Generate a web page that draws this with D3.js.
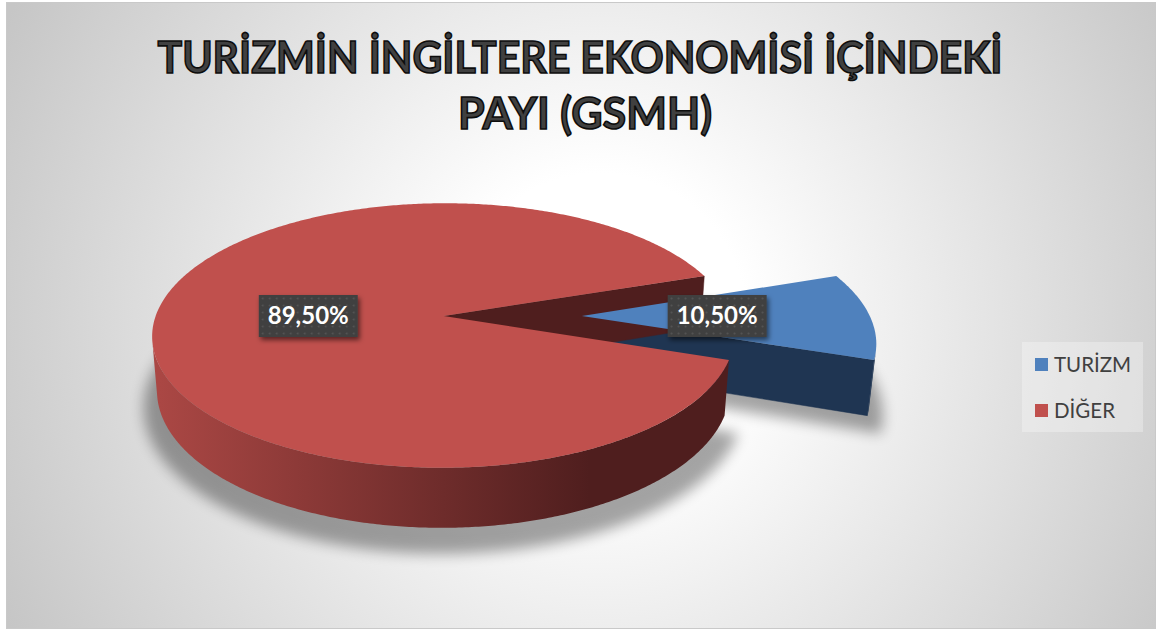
<!DOCTYPE html>
<html>
<head>
<meta charset="utf-8">
<script src="https://cdn.jsdelivr.net/npm/d3@7"></script>
<style>
  html, body { margin: 0; padding: 0; background: #fff; }
  svg { display: block; }
</style>
</head>
<body>
<div id="chart"></div>
<script>
// data
const categories = ["TURİZM", "DİĞER"];
const shares = [10.5, 89.5];
const titleLines = ["TURİZMİN İNGİLTERE EKONOMİSİ İÇİNDEKİ", "PAYI (GSMH)"];

const width = 1158, height = 631;

const topColor = d3.scaleOrdinal().domain(categories).range(["#4F81BD", "#C0504D"]);
const sideColor = d3.scaleOrdinal().domain(categories).range(["#1F3552", "#4F1E1E"]);
const explode = d3.scaleOrdinal().domain(categories).range([0.43, 0.05]);

const trLocale = d3.formatLocale({ decimal: ",", thousands: ".", grouping: [3], currency: ["", "₺"] });
const pct = trLocale.format(".2%");

// simple perspective camera looking down on the pie
const cam = { x0: 458, y0: 316, f: 1745, dist: 6.06, tilt: 26.7 * Math.PI / 180, thick: 0.212 };
const cosT = Math.cos(cam.tilt), sinT = Math.sin(cam.tilt);
const camX = 0, camZ = -cam.dist * cosT;

function project(X, Y, Z) {
    const k = cam.f / (cam.dist + Z * cosT - Y * sinT);
    return [cam.x0 + k * X, cam.y0 - k * (Z * sinT + Y * cosT)];
}

const svg = d3.select("#chart")
    .append("svg")
    .attr("width", width)
    .attr("height", height);

const defs = svg.append("defs");

const bg = defs.append("radialGradient")
    .attr("id", "bg")
    .attr("gradientUnits", "userSpaceOnUse")
    .attr("cx", 600).attr("cy", 320).attr("r", 665);
bg.append("stop").attr("offset", "0%").attr("stop-color", "#ffffff");
bg.append("stop").attr("offset", "22%").attr("stop-color", "#ffffff");
bg.append("stop").attr("offset", "100%").attr("stop-color", "#c6c6c6");

const wallGrad = defs.append("linearGradient")
    .attr("id", "wall-grad")
    .attr("gradientUnits", "userSpaceOnUse")
    .attr("x1", 160).attr("x2", 590).attr("y1", 0).attr("y2", 0);
wallGrad.append("stop").attr("offset", "0%").attr("stop-color", "#AA4744");
wallGrad.append("stop").attr("offset", "100%").attr("stop-color", "#4F1E1E");

defs.append("filter")
    .attr("id", "soft")
    .attr("x", "-20%").attr("y", "-20%").attr("width", "140%").attr("height", "140%")
    .append("feGaussianBlur").attr("stdDeviation", 7);

const labShadow = defs.append("filter")
    .attr("id", "lab-shadow")
    .attr("x", "-20%").attr("y", "-30%").attr("width", "150%").attr("height", "170%");
labShadow.append("feDropShadow")
    .attr("dx", 2).attr("dy", 3).attr("stdDeviation", 2.5)
    .attr("flood-color", "#000").attr("flood-opacity", 0.55);

const dots = defs.append("pattern")
    .attr("id", "dots")
    .attr("patternUnits", "userSpaceOnUse")
    .attr("width", 7).attr("height", 7);
dots.append("rect").attr("width", 7).attr("height", 7).attr("fill", "#404040");
dots.append("circle").attr("cx", 3.5).attr("cy", 3.5).attr("r", 1).attr("fill", "#555555");

// background
svg.append("rect")
    .attr("x", 6.5).attr("y", 2.5)
    .attr("width", 1149).attr("height", 626)
    .attr("fill", "url(#bg)")
    .attr("stroke", "#c9c9c9")
    .attr("stroke-width", 1);

// title
svg.append("g")
    .selectAll("text")
    .data(titleLines)
    .join("text")
    .attr("x", (d, i) => i === 0 ? 580 : 585)
    .attr("y", (d, i) => 73 + i * 56)
    .attr("text-anchor", "middle")
    .attr("font-family", "Lato, 'Open Sans', sans-serif")
    .attr("font-weight", "bold")
    .attr("font-size", 44)
    .attr("fill", "#404040")
    .attr("stroke", "#0d0d0d")
    .attr("stroke-width", 1.6)
    .attr("textLength", (d, i) => i === 0 ? 845 : 254)
    .attr("lengthAdjust", "spacingAndGlyphs")
    .text(d => d);

// pie geometry
const rows = categories.map((c, i) => ({ name: c, value: shares[i] }));
const rotation = Math.PI / 2 - Math.PI * shares[0] / 100;
const pie = d3.pie()
    .sort(null)
    .value(d => d.value)
    .startAngle(rotation)
    .endAngle(rotation + 2 * Math.PI);
const arcs = pie(rows);

arcs.forEach(d => {
    const mid = (d.startAngle + d.endAngle) / 2;
    const e = explode(d.data.name);
    d.ox = e * Math.sin(mid);
    d.oz = e * Math.cos(mid);
});

function pt(d, a, r, Y) {
    return project(d.ox + r * Math.sin(a), Y, d.oz + r * Math.cos(a));
}

function arcPoints(d, r, Y, from, to) {
    const n = Math.max(8, Math.ceil(Math.abs(to - from) / 0.01));
    return d3.range(n + 1).map(i => pt(d, from + (to - from) * i / n, r, Y));
}

const line = d3.line();

// shadow on the floor
svg.append("g")
    .attr("filter", "url(#soft)")
    .attr("opacity", 0.35)
    .selectAll("path")
    .data(arcs)
    .join("path")
    .attr("fill", "#000")
    .attr("d", d => line([pt(d, 0, 0, -cam.thick - 0.06)]
        .concat(arcPoints(d, 1.05, -cam.thick - 0.06, d.startAngle, d.endAngle))) + "Z");

// radial cut faces (only those turned to the camera)
const faces = [];
arcs.forEach(d => {
    [[d.startAngle, -1], [d.endAngle, 1]].forEach(([a, sgn]) => {
        const nx = sgn * Math.cos(a), nz = -sgn * Math.sin(a);
        const px = d.ox + 0.5 * Math.sin(a), pz = d.oz + 0.5 * Math.cos(a);
        if (nx * (camX - px) + nz * (camZ - pz) > 0) {
            faces.push({
                d: d,
                pts: [pt(d, a, 0, 0), pt(d, a, 1, 0), pt(d, a, 1, -cam.thick), pt(d, a, 0, -cam.thick)]
            });
        }
    });
});

svg.append("g")
    .selectAll("path")
    .data(faces)
    .join("path")
    .attr("d", f => line(f.pts) + "Z")
    .attr("fill", f => sideColor(f.d.data.name))
    .attr("stroke", f => sideColor(f.d.data.name))
    .attr("stroke-width", 0.5);

// outer walls, split into runs that face the camera
const walls = [];
arcs.forEach(d => {
    const n = Math.ceil((d.endAngle - d.startAngle) / 0.01);
    let run = [];
    for (let i = 0; i <= n; i++) {
        const a = d.startAngle + (d.endAngle - d.startAngle) * i / n;
        const px = d.ox + Math.sin(a), pz = d.oz + Math.cos(a);
        const vis = Math.sin(a) * (camX - px) + Math.cos(a) * (camZ - pz) > 0;
        if (vis) run.push(a);
        if ((!vis || i === n) && run.length > 1) {
            walls.push({ d: d, angles: run });
            run = [];
        } else if (!vis) {
            run = [];
        }
    }
});

svg.append("g")
    .selectAll("path")
    .data(walls)
    .join("path")
    .attr("d", w => {
        const top = w.angles.map(a => pt(w.d, a, 1, 0));
        const bottom = w.angles.map(a => pt(w.d, a, 1, -cam.thick)).reverse();
        return line(top.concat(bottom)) + "Z";
    })
    .attr("fill", w => w.d.index === 1 ? "url(#wall-grad)" : sideColor(w.d.data.name));

// top faces
svg.append("g")
    .selectAll("path")
    .data(arcs)
    .join("path")
    .attr("d", d => line([pt(d, 0, 0, 0)].concat(arcPoints(d, 1, 0, d.startAngle, d.endAngle))) + "Z")
    .attr("fill", d => topColor(d.data.name));

// data labels
const labels = svg.append("g")
    .selectAll("g")
    .data(arcs)
    .join("g")
    .attr("transform", d => {
        const mid = (d.startAngle + d.endAngle) / 2;
        const [x, y] = pt(d, mid, 0.47, 0);
        return `translate(${x},${y})`;
    });

labels.append("rect")
    .attr("filter", "url(#lab-shadow)")
    .attr("fill", "url(#dots)");

labels.append("text")
    .attr("text-anchor", "middle")
    .attr("dy", "0.35em")
    .attr("font-family", "Lato, 'Open Sans', sans-serif")
    .attr("font-weight", "bold")
    .attr("font-size", 24)
    .attr("fill", "#ffffff")
    .text(d => pct(d.data.value / 100));

labels.each(function () {
    const g = d3.select(this);
    const w = g.select("text").node().getComputedTextLength() + 18;
    g.select("rect")
        .attr("x", -w / 2).attr("y", -21)
        .attr("width", w).attr("height", 42);
});

// legend
const legend = svg.append("g").attr("transform", "translate(1022,342)");
legend.append("rect")
    .attr("width", 121).attr("height", 90)
    .attr("fill", "#ffffff")
    .attr("fill-opacity", 0.3);

const items = legend.selectAll("g.item")
    .data(categories)
    .join("g")
    .attr("class", "item")
    .attr("transform", (d, i) => `translate(13,${16 + i * 46})`);

items.append("rect")
    .attr("width", 13).attr("height", 13)
    .attr("fill", d => topColor(d));

items.append("text")
    .attr("x", 19).attr("y", 13.5)
    .attr("font-family", "Lato, 'Open Sans', sans-serif")
    .attr("font-size", 20.5)
    .attr("fill", "#404040")
    .text(d => d);
</script>
</body>
</html>
